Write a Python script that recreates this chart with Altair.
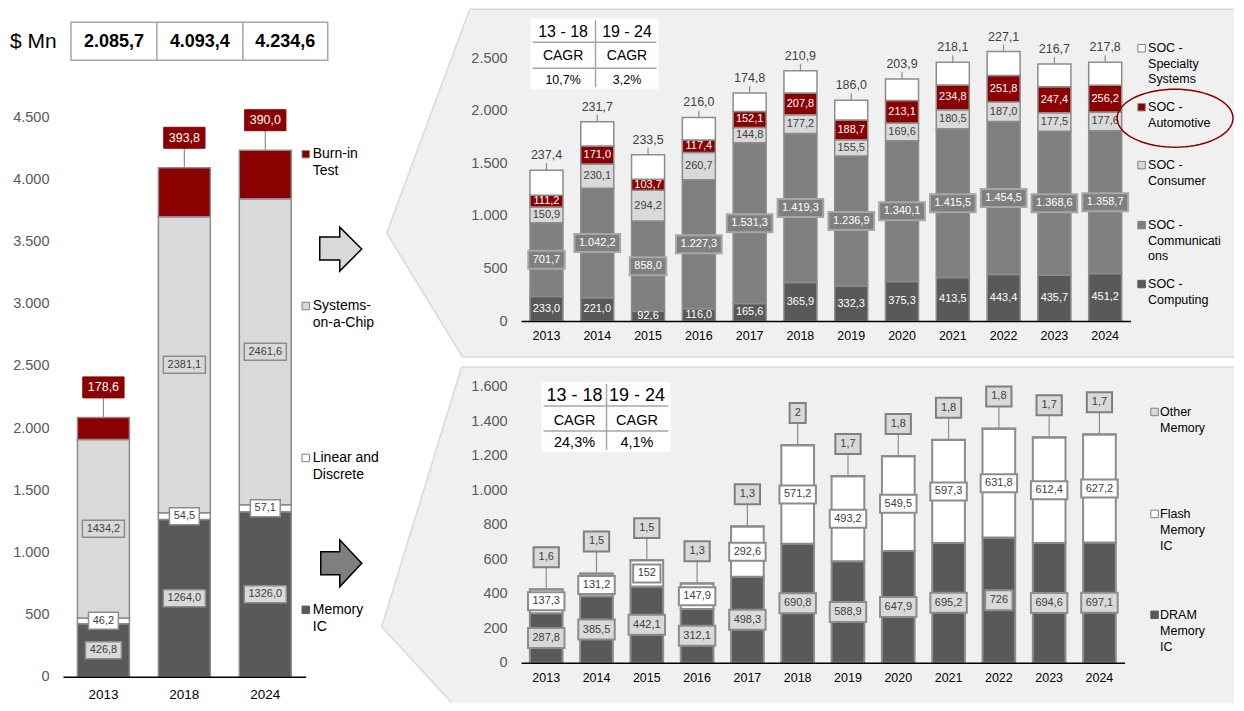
import math
import altair as alt
import pandas as pd

# ------------------------------------------------------------------ data
left_years = ["2013", "2018", "2024"]
left_series = ["Memory IC", "Linear and Discrete", "Systems-on-a-Chip", "Burn-in Test"]
left_memory_ic = [426.8, 1264.0, 1326.0]
left_linear_discrete = [46.2, 54.5, 57.1]
left_soc = [1434.2, 2381.1, 2461.6]
left_burn_in = [178.6, 393.8, 390.0]
left_totals = ["2.085,7", "4.093,4", "4.234,6"]
left_legend = ["Burn-in\nTest", "Systems-\non-a-Chip", "Linear and\nDiscrete", "Memory\nIC"]
left_ticks = list(range(0, 4501, 500))

years = ["2013", "2014", "2015", "2016", "2017", "2018",
         "2019", "2020", "2021", "2022", "2023", "2024"]

soc_series = ["SOC - Computing", "SOC - Communications", "SOC - Consumer",
              "SOC - Automotive", "SOC - Specialty Systems"]
soc_computing = [233.0, 221.0, 92.6, 116.0, 165.6, 365.9, 332.3, 375.3, 413.5, 443.4, 435.7, 451.2]
soc_communications = [701.7, 1042.2, 858.0, 1227.3, 1531.3, 1419.3, 1236.9, 1340.1, 1415.5, 1454.5, 1368.6, 1358.7]
soc_consumer = [150.9, 230.1, 294.2, 260.7, 144.8, 177.2, 155.5, 169.6, 180.5, 187.0, 177.5, 177.6]
soc_automotive = [111.2, 171.0, 103.7, 117.4, 152.1, 207.8, 188.7, 213.1, 234.8, 251.8, 247.4, 256.2]
soc_specialty = [237.4, 231.7, 233.5, 216.0, 174.8, 210.9, 186.0, 203.9, 218.1, 227.1, 216.7, 217.8]
soc_legend = ["SOC -\nSpecialty\nSystems", "SOC -\nAutomotive", "SOC -\nConsumer",
              "SOC -\nCommunicati\nons", "SOC -\nComputing"]
soc_ticks = list(range(0, 2501, 500))
soc_cagr = ["10,7%", "3,2%"]

mem_series = ["DRAM Memory IC", "Flash Memory IC", "Other Memory"]
mem_dram = [287.8, 385.5, 442.1, 312.1, 498.3, 690.8, 588.9, 647.9, 695.2, 726, 694.6, 697.1]
mem_flash = [137.3, 131.2, 152, 147.9, 292.6, 571.2, 493.2, 549.5, 597.3, 631.8, 612.4, 627.2]
mem_other = [1.6, 1.5, 1.5, 1.3, 1.3, 2, 1.7, 1.8, 1.8, 1.8, 1.7, 1.7]
mem_legend = ["Other\nMemory", "Flash\nMemory\nIC", "DRAM\nMemory\nIC"]
mem_ticks = list(range(0, 1601, 200))
mem_cagr = ["24,3%", "4,1%"]

cagr_periods = ["13 - 18", "19 - 24"]
cagr_word = "CAGR"
unit_label = "$ Mn"


# ------------------------------------------------------------------ helpers
def fmt_plain(v):
    return f"{v:.1f}".replace(".", ",")


def fmt_thousands(v):
    return f"{v:,.1f}".replace(",", " ").replace(".", ",").replace(" ", ".")


def fmt_raw(v):
    return str(v).replace(".", ",")


def stack(cats, names, columns, fmt):
    rows = []
    for i, c in enumerate(cats):
        base = 0.0
        for name, col in zip(names, columns):
            v = col[i]
            rows.append(dict(cat=c, series=name, value=v, y0=base, y1=base + v,
                             mid=base + v / 2.0, label=fmt(v)))
            base += v
    return pd.DataFrame(rows)


left_df = stack(left_years, left_series,
                [left_memory_ic, left_linear_discrete, left_soc, left_burn_in], fmt_plain)
soc_df = stack(years, soc_series,
               [soc_computing, soc_communications, soc_consumer, soc_automotive, soc_specialty],
               fmt_thousands)
mem_df = stack(years, mem_series, [mem_dram, mem_flash, mem_other], fmt_raw)

FONT = "Liberation Sans"
DARK = "#595959"
MID = "#7f7f7f"
LIGHT = "#d9d9d9"
RED = "#8b0000"
EDGE = "#8c8c8c"
TXT = "#404040"
BG = "#f0f0f0"
BG_EDGE = "#d9d9d9"
dummy = pd.DataFrame({"k": [0]})


def make_x(sort, pi, size, pad):
    axis = alt.Axis(title=None, labelAngle=0, ticks=False, domain=True, domainColor="#000000",
                    domainWidth=1.5, labelColor="#000000", labelFont=FONT, labelFontSize=size,
                    labelPadding=pad, grid=False, zindex=2)
    return alt.X("cat:N", sort=sort, scale=alt.Scale(paddingInner=pi, paddingOuter=pi / 2), axis=axis)


def make_y(dmax, ticks, size=14.5):
    axis = alt.Axis(title=None, values=ticks,
                    labelExpr="replace(format(datum.value, ','), ',', '.')",
                    domain=False, ticks=False, grid=False, labelColor=DARK, labelFont=FONT,
                    labelFontSize=size, labelPadding=14, zindex=2)
    scale = alt.Scale(domain=[0, dmax], nice=False, zero=True)

    def f(field):
        return alt.Y(f"{field}:Q", scale=scale, axis=axis)
    return f


def text_w(label, dw, pw):
    return sum(dw if ch.isdigit() else pw for ch in label)


def box_layers(df, series, y_field, XE, YE, fill, stroke, sw, h, dw, pw, pad, yoff=0):
    sub = df[df["series"] == series]
    groups = {}
    for _, r in sub.iterrows():
        w = round(text_w(r["label"], dw, pw) + pad, 1)
        groups.setdefault(w, []).append(r["cat"])
    out = []
    for w, cats in groups.items():
        rr = h / w
        path = f"M-1,{-rr:.4f}L1,{-rr:.4f}L1,{rr:.4f}L-1,{rr:.4f}Z"
        cat_list = ",".join(f"'{c}'" for c in cats)
        out.append(
            alt.Chart(df)
            .transform_filter(f"datum.series === '{series}' && indexof([{cat_list}], datum.cat) >= 0")
            .mark_point(shape=path, size=w * w, filled=True, fill=fill, stroke=stroke,
                        strokeWidth=sw, opacity=1, yOffset=yoff)
            .encode(x=XE, y=YE(y_field))
        )
    return out


def label_layer(df, series, y_field, XE, YE, color, size, yoff=0):
    return (alt.Chart(df)
            .transform_filter(f"datum.series === '{series}'")
            .mark_text(font=FONT, fontSize=size, color=color, baseline="middle", yOffset=yoff)
            .encode(x=XE, y=YE(y_field), text="label:N"))


def leader_layer(df, series, XE, YE, length, color=EDGE):
    return (alt.Chart(df)
            .transform_filter(f"datum.series === '{series}'")
            .mark_rule(color=color, strokeWidth=1.2, y2Offset=-length)
            .encode(x=XE, y=YE("y1"), y2="y1:Q"))


def vrect(o, x1, y1, x2, y2, fill, stroke=None, sw=0):
    kw = dict(fill=fill, strokeWidth=sw)
    if stroke:
        kw["stroke"] = stroke
    return alt.Chart(dummy).mark_rect(**kw).encode(
        x=alt.value(x1 - o[0]), x2=alt.value(x2 - o[0]),
        y=alt.value(y1 - o[1]), y2=alt.value(y2 - o[1]))


def vrule(o, x1, y1, x2, y2, color, sw):
    return alt.Chart(dummy).mark_rule(color=color, strokeWidth=sw).encode(
        x=alt.value(x1 - o[0]), x2=alt.value(x2 - o[0]),
        y=alt.value(y1 - o[1]), y2=alt.value(y2 - o[1]))


def vtext(o, x, y, text, size, color="#000000", weight="normal", align="center", line_h=None):
    kw = dict(font=FONT, fontSize=size, color=color, fontWeight=weight, align=align,
              baseline="middle")
    if line_h:
        kw["lineBreak"] = "\n"
        kw["lineHeight"] = line_h
    return alt.Chart(dummy).mark_text(**kw).encode(
        x=alt.value(x - o[0]), y=alt.value(y - o[1]), text=alt.value(text))


def vshape(o, points, fill=None, stroke=None, sw=1.5):
    xs = [p[0] for p in points]
    ys = [p[1] for p in points]
    cx = (min(xs) + max(xs)) / 2.0
    cy = (min(ys) + max(ys)) / 2.0
    r = max(max(xs) - min(xs), max(ys) - min(ys)) / 2.0
    path = "M" + "L".join(f"{(x - cx) / r:.4f},{(y - cy) / r:.4f}" for x, y in points) + "Z"
    kw = dict(shape=path, size=(2 * r) ** 2, filled=fill is not None, opacity=1)
    if fill is not None:
        kw["fill"] = fill
    if stroke is not None:
        kw["stroke"] = stroke
        kw["strokeWidth"] = sw
    return alt.Chart(dummy).mark_point(**kw).encode(x=alt.value(cx - o[0]), y=alt.value(cy - o[1]))


def vsquare(o, x, y, fill, stroke, size=56):
    return alt.Chart(dummy).mark_square(size=size, fill=fill, stroke=stroke, strokeWidth=1,
                                        opacity=1).encode(x=alt.value(x - o[0]), y=alt.value(y - o[1]))


def legend(o, labels, fills, strokes, ys, sq_x, txt_x, size, line_h):
    out = []
    for lab, f, s, y in zip(labels, fills, strokes, ys):
        out.append(vsquare(o, sq_x, y, f, s))
        out.append(vtext(o, txt_x, y, lab, size, align="left", line_h=line_h))
    return out


RIGHT_EDGE = 1235

# ------------------------------------------------------------------ left panel
LO = (63, 58)
L_W, L_H = 243, 619
L_DMAX = 4500 * L_H / 560.0
XL = make_x(left_years, 0.358, 13.5, 11)
YL = make_y(L_DMAX, left_ticks)

left_layers = [
    alt.Chart(left_df).mark_bar(stroke=EDGE, strokeWidth=1.5).encode(
        x=XL, y=YL("y0"), y2="y1:Q",
        color=alt.Color("series:N", scale=alt.Scale(domain=left_series,
                                                     range=[DARK, "#ffffff", LIGHT, RED]), legend=None)),
    leader_layer(left_df, "Burn-in Test", XL, YL, 20),
]
left_layers += box_layers(left_df, "Memory IC", "mid", XL, YL, LIGHT, EDGE, 1.5, 17, 6.1, 3.1, 8.5)
left_layers += box_layers(left_df, "Linear and Discrete", "mid", XL, YL, "#ffffff", EDGE, 1.5, 17, 6.1, 3.1, 8.5)
left_layers += box_layers(left_df, "Systems-on-a-Chip", "mid", XL, YL, LIGHT, EDGE, 1.5, 17, 6.1, 3.1, 8.5)
left_layers += box_layers(left_df, "Burn-in Test", "y1", XL, YL, RED, RED, 1, 21, 6.95, 3.5, 10, -30)
left_layers += [
    label_layer(left_df, "Memory IC", "mid", XL, YL, TXT, 11),
    label_layer(left_df, "Linear and Discrete", "mid", XL, YL, TXT, 11),
    label_layer(left_df, "Systems-on-a-Chip", "mid", XL, YL, TXT, 11),
    label_layer(left_df, "Burn-in Test", "y1", XL, YL, "#ffffff", 12.5, -30),
]
# header with totals
left_layers += [
    vtext(LO, 10, 42, unit_label, 21, align="left"),
    vrect(LO, 71, 22, 328, 60, "#ffffff", "#a6a6a6", 1.5),
    vrule(LO, 157, 22, 157, 60, "#a6a6a6", 1.5),
    vrule(LO, 243, 22, 243, 60, "#a6a6a6", 1.5),
]
for tx, tot in zip([114, 200, 285.5], left_totals):
    left_layers.append(vtext(LO, tx, 42, tot, 18, weight="bold"))
# arrows
left_layers += [
    vshape(LO, [(320, 237), (340, 237), (340, 227), (362, 249), (340, 271), (340, 260), (320, 260)],
           LIGHT, "#000000", 1.5),
    vshape(LO, [(321, 552), (340, 552), (340, 540), (362, 563.5), (340, 587), (340, 575), (321, 575)],
           MID, "#000000", 1.5),
]
left_layers += legend(LO, left_legend, [RED, LIGHT, "#ffffff", DARK], [EDGE, MID, MID, DARK],
                      [154, 306, 458, 610], 306, 313, 14, 17)

left_chart = alt.layer(*left_layers).properties(width=L_W, height=L_H)

# ------------------------------------------------------------------ top-right panel
TO = (521.5, 58)
XT = make_x(years, 0.35, 12.5, 8)
YT = make_y(2500, soc_ticks)

top_layers = [
    vshape(TO, [(470, 9), (RIGHT_EDGE, 9), (RIGHT_EDGE, 357), (463, 357), (387, 233)], BG),
    vrule(TO, 470, 9, RIGHT_EDGE, 9, BG_EDGE, 1.5),
    vrule(TO, 470, 9, 387, 233, BG_EDGE, 1.5),
    vrule(TO, 387, 233, 463, 357, BG_EDGE, 1.5),
    vrule(TO, 463, 357, RIGHT_EDGE, 357, BG_EDGE, 1.5),
    vrect(TO, 531, 18, 659, 89, "#ffffff"),
    vrule(TO, 533, 42, 657, 42, "#a6a6a6", 1.5),
    vrule(TO, 533, 68, 657, 68, "#a6a6a6", 1.5),
    vrule(TO, 596, 20, 596, 87, "#a6a6a6", 1.5),
]
for cx, per, val in zip([563.5, 627.5], cagr_periods, soc_cagr):
    top_layers += [vtext(TO, cx, 32, per, 16), vtext(TO, cx, 56, cagr_word, 14),
                   vtext(TO, cx, 80, val, 12.5)]
top_layers += [
    alt.Chart(soc_df).mark_bar(stroke=EDGE, strokeWidth=1.5).encode(
        x=XT, y=YT("y0"), y2="y1:Q",
        color=alt.Color("series:N", scale=alt.Scale(domain=soc_series,
                                                     range=[DARK, MID, LIGHT, RED, "#ffffff"]), legend=None)),
    leader_layer(soc_df, "SOC - Specialty Systems", XT, YT, 7),
]
top_layers += box_layers(soc_df, "SOC - Communications", "mid", XT, YT, MID, "#a6a6a6", 2, 18, 6.1, 3.1, 9)
top_layers += [
    label_layer(soc_df, "SOC - Computing", "mid", XT, YT, "#ffffff", 11),
    label_layer(soc_df, "SOC - Communications", "mid", XT, YT, "#ffffff", 11),
    label_layer(soc_df, "SOC - Consumer", "mid", XT, YT, TXT, 11),
    label_layer(soc_df, "SOC - Automotive", "mid", XT, YT, "#ffffff", 11),
    label_layer(soc_df, "SOC - Specialty Systems", "y1", XT, YT, TXT, 12.5, -15),
]
ell = [(1176 + 58 * math.cos(2 * math.pi * k / 72), 118 + 29 * math.sin(2 * math.pi * k / 72))
       for k in range(72)]
top_layers.append(vshape(TO, ell, None, RED, 1.5))
top_layers += legend(TO, soc_legend, ["#ffffff", RED, LIGHT, MID, DARK], [MID, EDGE, MID, MID, DARK],
                     [48, 107, 165, 225, 284], 1142.5, 1149, 12.5, 15.5)

top_chart = alt.layer(*top_layers).properties(width=610, height=263)

# ------------------------------------------------------------------ bottom-right panel
BO = (521.5, 387)
XB = make_x(years, 0.35, 12.5, 9)
YB = make_y(1600, mem_ticks)

bot_layers = [
    vshape(BO, [(462, 367), (RIGHT_EDGE, 367), (RIGHT_EDGE, 703), (452, 703), (382, 627)], BG),
    vrule(BO, 462, 367, RIGHT_EDGE, 367, BG_EDGE, 1.5),
    vrule(BO, 462, 367, 382, 627, BG_EDGE, 1.5),
    vrule(BO, 382, 627, 452, 703, BG_EDGE, 1.5),
    vrect(BO, 542, 382, 671, 452, "#ffffff"),
    vrule(BO, 544, 406, 669, 406, "#a6a6a6", 1.5),
    vrule(BO, 544, 431, 669, 431, "#a6a6a6", 1.5),
    vrule(BO, 607, 384, 607, 450, "#a6a6a6", 1.5),
]
for cx, per, val in zip([575, 637.5], cagr_periods, mem_cagr):
    bot_layers += [vtext(BO, cx, 396, per, 18), vtext(BO, cx, 421, cagr_word, 14.5),
                   vtext(BO, cx, 443, val, 14.5)]
bot_layers += [
    alt.Chart(mem_df).mark_bar(stroke=EDGE, strokeWidth=2).encode(
        x=XB, y=YB("y0"), y2="y1:Q",
        color=alt.Color("series:N", scale=alt.Scale(domain=mem_series,
                                                     range=[DARK, "#ffffff", "#a6a6a6"]), legend=None)),
    leader_layer(mem_df, "Other Memory", XB, YB, 22),
]
bot_layers += box_layers(mem_df, "DRAM Memory IC", "mid", XB, YB, LIGHT, EDGE, 2, 20, 6.1, 3.1, 9)
bot_layers += box_layers(mem_df, "Flash Memory IC", "mid", XB, YB, "#ffffff", EDGE, 2, 18, 6.1, 3.1, 9)
bot_layers += box_layers(mem_df, "Other Memory", "y1", XB, YB, LIGHT, MID, 2, 20, 6.1, 3.1, 10, -32)
bot_layers += [
    label_layer(mem_df, "DRAM Memory IC", "mid", XB, YB, TXT, 11),
    label_layer(mem_df, "Flash Memory IC", "mid", XB, YB, TXT, 11),
    label_layer(mem_df, "Other Memory", "y1", XB, YB, TXT, 11, -32),
]
bot_layers += legend(BO, mem_legend, [LIGHT, "#ffffff", DARK], [MID, MID, DARK],
                     [412, 514, 615], 1155.5, 1161, 12.5, 16)

bot_chart = alt.layer(*bot_layers).properties(width=604, height=276)

# ------------------------------------------------------------------ compose
right = alt.vconcat(top_chart, bot_chart, spacing=66, bounds="flush").resolve_scale(
    x="independent", y="independent", color="independent")
chart = (
    alt.hconcat(left_chart, right, spacing=215.5, bounds="flush")
    .resolve_scale(x="independent", y="independent", color="independent")
    .properties(padding={"left": 2, "top": 0, "right": 0, "bottom": 0})
    .configure_view(stroke=None)
)

chart.save("out.html", embed_options={"renderer": "svg", "actions": False})
